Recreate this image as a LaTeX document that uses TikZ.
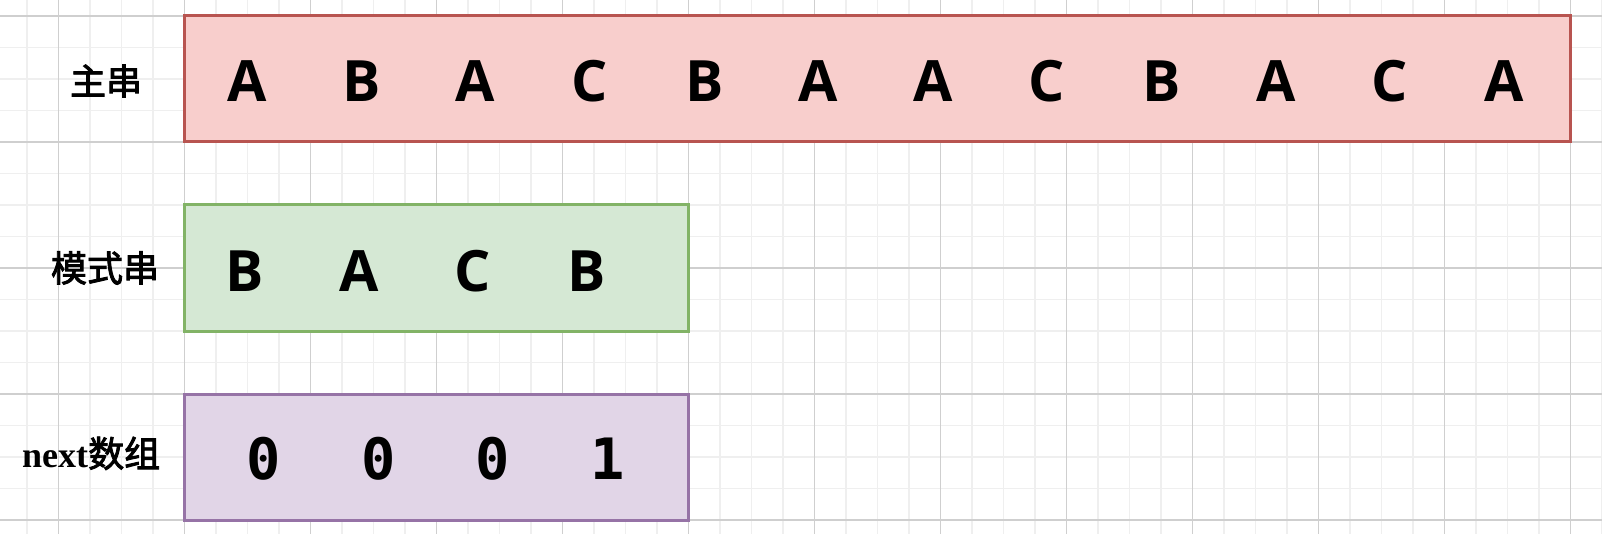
\documentclass[tikz,border=0pt]{standalone}
\usepackage{fontspec}
\newfontfamily\monob{DejaVu Sans Mono}[BoldFont={* Bold}]
\newfontfamily\letf{Open Sans}[BoldFont={* Bold}]
\newfontfamily\cjk{Noto Sans CJK SC}[FakeBold=2.5]
\newfontfamily\latserif{Liberation Serif}[BoldFont={* Bold}]
\definecolor{gmajor}{HTML}{CFCFCF}
\definecolor{gminor}{HTML}{EFEFEF}
\definecolor{redfill}{HTML}{F8CECC}
\definecolor{redline}{HTML}{B85450}
\definecolor{grnfill}{HTML}{D5E8D4}
\definecolor{grnline}{HTML}{82B366}
\definecolor{purfill}{HTML}{E1D5E7}
\definecolor{purline}{HTML}{9673A6}
\tikzset{
  boxnode/.style={rectangle, line width=3pt, inner sep=0pt, outer sep=0pt, anchor=north west},
  chr/.style={inner sep=0pt, anchor=center, font=\letf\bfseries\fontsize{57}{57}\selectfont},
  dig/.style={inner sep=0pt, anchor=center, font=\monob\bfseries\fontsize{57}{57}\selectfont},
  lbl/.style={inner sep=0pt, anchor=center, font=\cjk\fontsize{36}{36}\selectfont},
}
\begin{document}
\begin{tikzpicture}[x=1pt,y=-1pt]
\useasboundingbox (0,0) rectangle (1602,534);
\fill[white] (0,0) rectangle (1602,534);
% minor grid
\foreach \i in {0,...,51} {
  \draw[gminor, line width=1.3pt] ({27+31.5*\i},0) -- ({27+31.5*\i},534);
}
\foreach \j in {0,...,16} {
  \draw[gminor, line width=1.3pt] (0,{16+31.5*\j}) -- (1602,{16+31.5*\j});
}
% major grid
\foreach \i in {0,...,12} {
  \draw[gmajor, line width=1.3pt] ({58.5+126*\i},0) -- ({58.5+126*\i},534);
}
\foreach \j in {0,...,4} {
  \draw[gmajor, line width=1.3pt] (0,{16+126*\j}) -- (1602,{16+126*\j});
}
% boxes
\node[boxnode, draw=redline, fill=redfill, minimum width=1386pt, minimum height=126pt] (main) at (184.5,16) {};
\node[boxnode, draw=grnline, fill=grnfill, minimum width=504pt, minimum height=126pt] (pat) at (184.5,205) {};
\node[boxnode, draw=purline, fill=purfill, minimum width=504pt, minimum height=126pt] (nxt) at (184.5,394) {};
% labels
\node[lbl] (l1) at (106,81) {主串};
\node[lbl] (l2) at (105,268) {模式串};
\node[lbl, anchor=base west] (l3) at (22,467) {{\latserif\bfseries\fontsize{36}{36}\selectfont next}数组};
% main string
\foreach \c [count=\k from 0] in {A,B,A,C,B,A,A,C,B,A,C,A} {
  \node[chr] (m\k) at ({247+114.3*\k},81) {\c};
}
% pattern
\foreach \c [count=\k from 0] in {B,A,C,B} {
  \node[chr] (p\k) at ({245+114*\k},271) {\c};
}
% next array
\foreach \c [count=\k from 0] in {0,0,0,1} {
  \node[dig] (n\k) at ({264+114.5*\k},459) {\c};
}
\end{tikzpicture}
\end{document}
